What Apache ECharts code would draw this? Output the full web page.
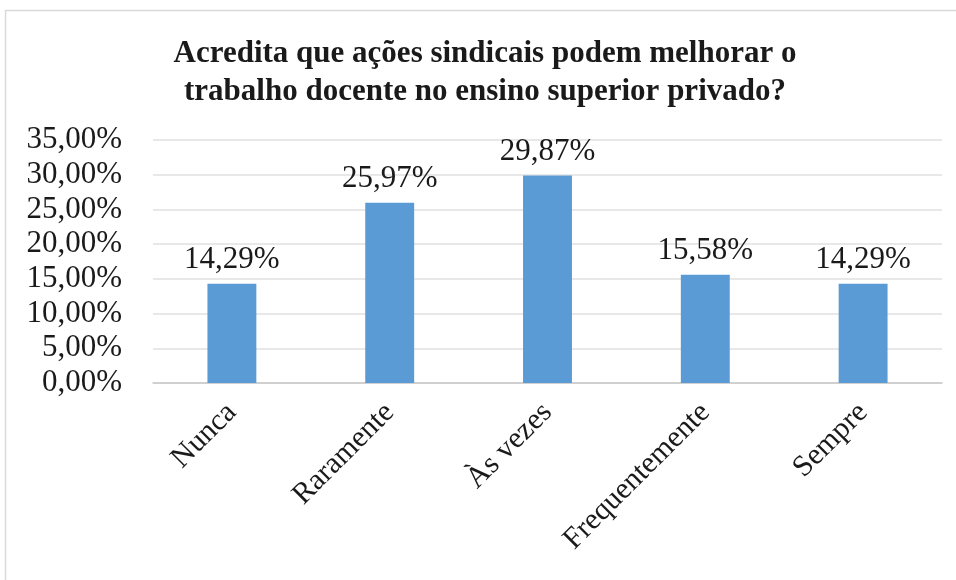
<!DOCTYPE html>
<html>
<head>
<meta charset="utf-8">
<script src="https://cdn.jsdelivr.net/npm/echarts@6/dist/echarts.min.js"></script>
<style>
  html, body { margin: 0; padding: 0; background: #ffffff; }
  #chart { width: 956px; height: 580px; }
</style>
</head>
<body>
<div id="chart"></div>
<script>
// Survey answers (percent of respondents)
const categories = ['Nunca', 'Raramente', 'Às vezes', 'Frequentemente', 'Sempre'];
const shares = [14.29, 25.97, 29.87, 15.58, 14.29];
const yTicks = { min: 0, max: 35, interval: 5 };
const titleText = 'Acredita que ações sindicais podem melhorar o\ntrabalho docente no ensino superior privado?';

const serif = '"Liberation Serif", "DejaVu Serif", serif';
const pct = v => Number(v).toFixed(2).replace('.', ',') + '%';

const chart = echarts.init(document.getElementById('chart'), null, { renderer: 'canvas' });

chart.setOption({
  backgroundColor: '#ffffff',
  animation: false,
  graphic: [{
    type: 'rect',
    shape: { x: 5.5, y: 10.5, width: 960, height: 580 },
    style: { fill: 'none', stroke: '#d9d9d9', lineWidth: 1.5 },
    silent: true,
    z: -1
  }],
  title: {
    text: titleText,
    left: 480,
    textAlign: 'center',
    top: 30,
    textStyle: {
      fontFamily: serif,
      fontWeight: 'bold',
      fontSize: 31,
      lineHeight: 38,
      color: '#1a1a1a'
    }
  },
  grid: { left: 153, right: 14, top: 140, bottom: 197, containLabel: false },
  xAxis: {
    type: 'category',
    data: categories,
    axisLine: { show: true, lineStyle: { color: '#c8c8c8', width: 1.5 } },
    axisTick: { show: false },
    axisLabel: {
      rotate: 45,
      interval: 0,
      margin: 25,
      fontFamily: serif,
      fontSize: 30,
      color: '#1a1a1a'
    }
  },
  yAxis: {
    type: 'value',
    min: yTicks.min,
    max: yTicks.max,
    interval: yTicks.interval,
    axisLine: { show: false },
    axisTick: { show: false },
    splitLine: { lineStyle: { color: '#e0e0e0', width: 1.5 } },
    axisLabel: {
      formatter: pct,
      margin: 31,
      fontFamily: serif,
      fontSize: 31,
      color: '#1a1a1a'
    }
  },
  series: [{
    type: 'bar',
    data: shares,
    barWidth: '31%',
    itemStyle: { color: '#5b9bd5' },
    label: {
      show: true,
      position: 'top',
      distance: 8,
      formatter: p => pct(p.value),
      fontFamily: serif,
      fontSize: 31,
      color: '#1a1a1a'
    }
  }]
});
</script>
</body>
</html>
